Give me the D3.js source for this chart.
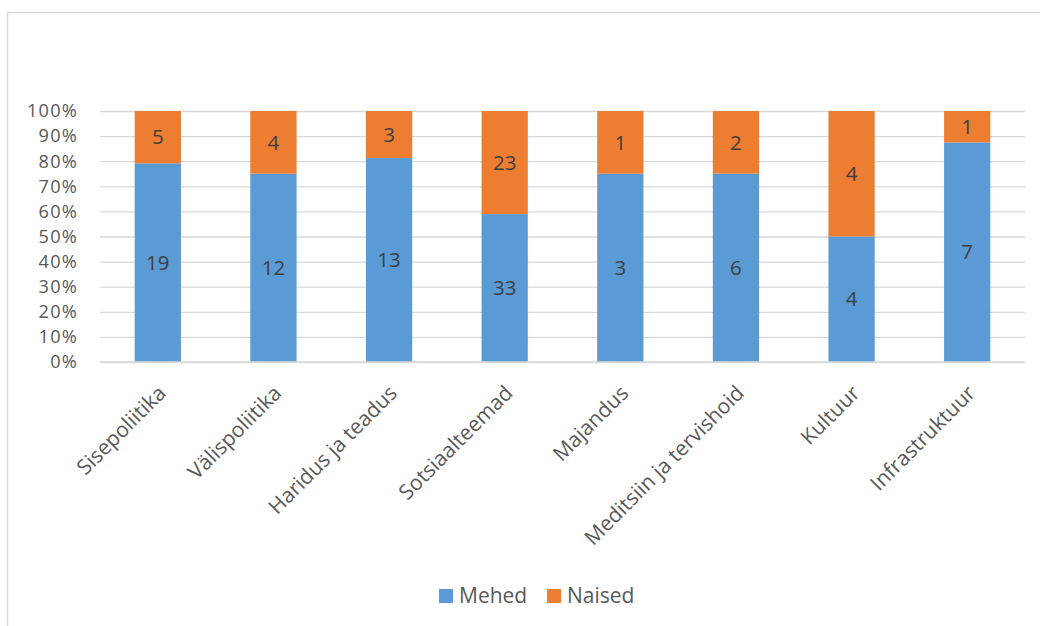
<!DOCTYPE html>
<html>
<head>
<meta charset="utf-8">
<script src="https://cdn.jsdelivr.net/npm/d3@7"></script>
<style>
  body { margin: 0; background: #fff; }
  svg { display: block; font-family: "Open Sans", sans-serif; }
</style>
</head>
<body>
<svg width="1040" height="626"></svg>
<script>
const categories = [
  "Sisepoliitika",
  "Välispoliitika",
  "Haridus ja teadus",
  "Sotsiaalteemad",
  "Majandus",
  "Meditsiin ja tervishoid",
  "Kultuur",
  "Infrastruktuur",
];
const mehed = [19, 12, 13, 33, 3, 6, 4, 7];
const naised = [5, 4, 3, 23, 1, 2, 4, 1];
const seriesNames = ["Mehed", "Naised"];
const colors = ["#5b9bd5", "#ed7d31"];
const yTicks = [0, 0.1, 0.2, 0.3, 0.4, 0.5, 0.6, 0.7, 0.8, 0.9, 1];

const svg = d3.select("svg");

// chart frame
svg
  .append("rect")
  .attr("x", 7.5)
  .attr("y", 12.5)
  .attr("width", 1100)
  .attr("height", 700)
  .attr("fill", "none")
  .attr("stroke", "#d9d9d9")
  .attr("stroke-width", 1.5);

const plotLeft = 100,
  plotRight = 1025,
  plotTop = 111,
  plotBottom = 362;

const x = d3.scaleBand().domain(categories).range([plotLeft, plotRight]).paddingInner(0.6).paddingOuter(0.3);
const y = d3.scaleLinear().domain([0, 1]).range([plotBottom, plotTop]);

const rows = categories.map((c, i) => ({ cat: c, Mehed: mehed[i], Naised: naised[i] }));
const stacked = d3.stack().keys(seriesNames).offset(d3.stackOffsetExpand)(rows);

// gridlines + y labels
const yAxis = svg
  .append("g")
  .attr("transform", `translate(${plotLeft},0)`)
  .call(
    d3.axisLeft(y)
      .tickValues(yTicks)
      .tickFormat(d3.format(".0%"))
      .tickSize(-(plotRight - plotLeft))
      .tickPadding(22)
  );
yAxis.select(".domain").remove();
yAxis.selectAll(".tick line").attr("stroke", "#d9d9d9").attr("stroke-width", 1.3);
yAxis
  .selectAll(".tick text")
  .attr("fill", "#595959")
  .attr("font-size", 18.2)
  .attr("letter-spacing", 1.2)
  .attr("font-family", "'Open Sans', sans-serif");

// bars
const layers = svg
  .selectAll("g.layer")
  .data(stacked)
  .enter()
  .append("g")
  .attr("class", "layer")
  .attr("fill", (d, i) => colors[i]);

layers
  .selectAll("rect")
  .data((d) => d)
  .enter()
  .append("rect")
  .attr("x", (d) => x(d.data.cat))
  .attr("y", (d) => y(d[1]))
  .attr("width", x.bandwidth())
  .attr("height", (d) => y(d[0]) - y(d[1]));

// value labels
layers
  .selectAll("text")
  .data((d) => d.map((v) => ({ v, key: d.key })))
  .enter()
  .append("text")
  .attr("x", (d) => x(d.v.data.cat) + x.bandwidth() / 2)
  .attr("y", (d) => (y(d.v[0]) + y(d.v[1])) / 2)
  .attr("dy", "0.35em")
  .attr("text-anchor", "middle")
  .attr("fill", "#404040")
  .attr("font-size", 20.5)
  .text((d) => d.v.data[d.key]);

// x axis line
svg
  .append("line")
  .attr("x1", plotLeft)
  .attr("x2", plotRight)
  .attr("y1", y(0))
  .attr("y2", y(0))
  .attr("stroke", "#d9d9d9")
  .attr("stroke-width", 1.5);

// x labels
svg
  .append("g")
  .selectAll("text")
  .data(categories)
  .enter()
  .append("text")
  .attr("transform", (d) => `translate(${x(d) + x.bandwidth() / 2 - 1},${plotBottom + 22}) rotate(-45)`)
  .attr("text-anchor", "end")
  .attr("dy", "0.7em")
  .attr("fill", "#595959")
  .attr("font-size", 21)
  .text((d) => d);

// legend
const legend = svg.append("g");
const legendX = [439, 547];
legend
  .selectAll("rect")
  .data(seriesNames)
  .enter()
  .append("rect")
  .attr("x", (d, i) => legendX[i])
  .attr("y", 589)
  .attr("width", 14)
  .attr("height", 14)
  .attr("fill", (d, i) => colors[i]);
legend
  .selectAll("text")
  .data(seriesNames)
  .enter()
  .append("text")
  .attr("x", (d, i) => legendX[i] + 20)
  .attr("y", 596)
  .attr("dy", "0.35em")
  .attr("fill", "#595959")
  .attr("font-size", 21)
  .text((d) => d);
</script>
</body>
</html>
